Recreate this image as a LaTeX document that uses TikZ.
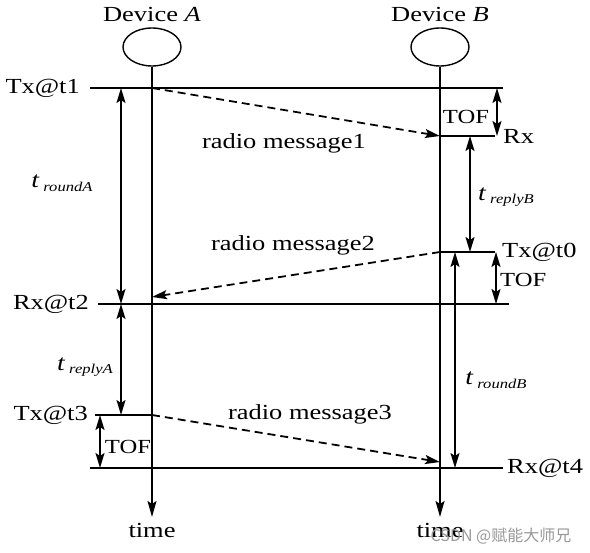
\documentclass[tikz,border=0pt]{standalone}
\usepackage{fontspec}
\setmainfont{Liberation Serif}[FakeStretch=1.23]
\newfontfamily\wmfont{Noto Sans CJK SC}
\usetikzlibrary{arrows.meta,shapes.geometric}
\newcommand{\tlab}[2]{\textit{#1}\,\raisebox{-0.35ex}{\fontsize{13.5}{14}\selectfont\itshape #2}}
\tikzset{
  lbl/.style={inner sep=0pt, font=\fontsize{21.5}{24}\selectfont},
  sublbl/.style={inner sep=0pt, font=\fontsize{22.5}{24}\selectfont},
  tof/.style={inner sep=0pt, font=\fontsize{20}{22}\selectfont},
  ln/.style={line width=1.8pt},
  tip/.style={},
  life/.style={line width=1.8pt, -{Stealth[length=16pt,width=9pt,inset=3pt]}},
  dbl/.style={line width=1.8pt, {Stealth[length=15pt,width=9pt,inset=3pt]}-{Stealth[length=15pt,width=9pt,inset=3pt]}},
  msg/.style={line width=1.8pt, dash pattern=on 8pt off 5pt, -{Stealth[length=15pt,width=9pt,inset=3pt]}},
  dev/.style={ellipse, draw, line width=1.4pt, minimum width=58pt, minimum height=38pt, inner sep=0pt}
}
\begin{document}
\begin{tikzpicture}[x=1pt,y=-1pt]
\useasboundingbox (0,0) rectangle (590,553);
% devices
\node[dev] (ea) at (152,47) {};
\node[dev] (eb) at (440,47) {};
\node[lbl] (da) at (152,14) {Device \textit{A}};
\node[lbl] (db) at (440,14) {Device \textit{B}};
% coordinates
\coordinate (aend) at (152,517);
\coordinate (bend) at (440,517);
\coordinate (l1a) at (90,88);   \coordinate (l1b) at (503,88);
\coordinate (l2a) at (98,304);  \coordinate (l2b) at (509,304);
\coordinate (l3a) at (95,415);  \coordinate (l3b) at (152,415);
\coordinate (l4a) at (90,468);  \coordinate (l4b) at (503,468);
\coordinate (rxa) at (440,136); \coordinate (rxb) at (495,136);
\coordinate (t0a) at (440,252); \coordinate (t0b) at (495,252);
\coordinate (ra1) at (121,88);  \coordinate (ra2) at (121,304); \coordinate (ra3) at (121,415);
\coordinate (ta1) at (100,415); \coordinate (ta2) at (100,468);
\coordinate (tb1) at (497,88);  \coordinate (tb2) at (497,136);
\coordinate (rb1) at (470,136); \coordinate (rb2) at (470,252);
\coordinate (tc1) at (496,252); \coordinate (tc2) at (496,304);
\coordinate (rd1) at (455,252); \coordinate (rd2) at (455,468);
\coordinate (m1s) at (152,88);  \coordinate (m1e) at (440,136);
\coordinate (m2s) at (440,252); \coordinate (m2e) at (152,297);
\coordinate (m3s) at (152,415); \coordinate (m3e) at (440,462);
% lifelines
\draw[life] (ea.south) -- (aend);
\draw[life] (eb.south) -- (bend);
% horizontal lines
\draw[ln] (l1a) -- (l1b);
\draw[ln] (l2a) -- (l2b);
\draw[ln] (l3a) -- (l3b);
\draw[ln] (l4a) -- (l4b);
\draw[ln] (rxa) -- (rxb);
\draw[ln] (t0a) -- (t0b);
% interval arrows
\draw[dbl] (ra1) -- (ra2);
\draw[dbl] (ra2) -- (ra3);
\draw[dbl] (ta1) -- (ta2);
\draw[dbl] (tb1) -- (tb2);
\draw[dbl] (rb1) -- (rb2);
\draw[dbl] (tc1) -- (tc2);
\draw[dbl] (rd1) -- (rd2);
% messages
\draw[msg] (m1s) -- (m1e);
\draw[msg] (m2s) -- (m2e);
\draw[msg] (m3s) -- (m3e);
% labels
\node[lbl, anchor=east] (tx1) at (80,88) {Tx@t1};
\node[lbl, anchor=east] (rx2) at (89,304) {Rx@t2};
\node[lbl, anchor=east] (tx3) at (88,415) {Tx@t3};
\node[lbl, anchor=west] (rx4) at (507,468) {Rx@t4};
\node[lbl, anchor=west] (rx) at (503,136) {Rx};
\node[lbl, anchor=west] (tx0) at (502,252) {Tx@t0};
\node[tof] (tof1) at (466,117) {TOF};
\node[tof, anchor=west] (tof2) at (500,280) {TOF};
\node[tof] (tof3) at (128,447) {TOF};
\node[lbl] (msg1) at (284,143) {radio message1};
\node[lbl] (msg2) at (293,245) {radio message2};
\node[lbl] (msg3) at (310,414) {radio message3};
\node[sublbl] (lra) at (62,183) {\tlab{t}{roundA}};
\node[sublbl] (lrpa) at (85,367) {\tlab{t}{replyA}};
\node[sublbl] (lrpb) at (506,197) {\tlab{t}{replyB}};
\node[sublbl] (lrb) at (496,380) {\tlab{t}{roundB}};
\node[lbl] (timea) at (152,530) {time};
\node[lbl] (timeb) at (440,530) {time};
\node[inner sep=0pt, text=black!40, font=\wmfont\fontsize{16}{18}\selectfont] (wm) at (501,536) {CSDN @赋能大师兄};
\end{tikzpicture}
\end{document}
